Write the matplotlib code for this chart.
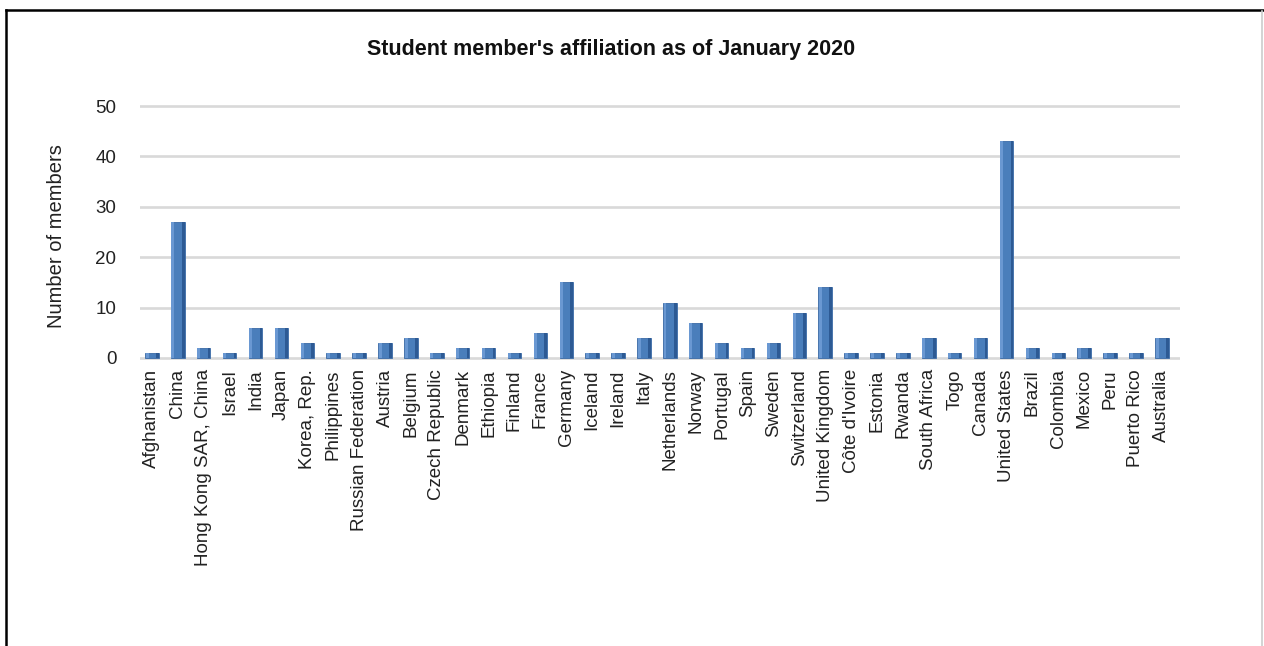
import matplotlib.pyplot as plt
from matplotlib.lines import Line2D

countries = [
    "Afghanistan", "China", "Hong Kong SAR, China", "Israel", "India", "Japan",
    "Korea, Rep.", "Philippines", "Russian Federation", "Austria", "Belgium",
    "Czech Republic", "Denmark", "Ethiopia", "Finland", "France", "Germany",
    "Iceland", "Ireland", "Italy", "Netherlands", "Norway", "Portugal", "Spain",
    "Sweden", "Switzerland", "United Kingdom", "Côte d'Ivoire", "Estonia",
    "Rwanda", "South Africa", "Togo", "Canada", "United States", "Brazil",
    "Colombia", "Mexico", "Peru", "Puerto Rico", "Australia",
]
members = [
    1, 27, 2, 1, 6, 6, 3, 1, 1, 3, 4, 1, 2, 2, 1, 5, 15, 1, 1, 4,
    11, 7, 3, 2, 3, 9, 14, 1, 1, 1, 4, 1, 4, 43, 2, 1, 2, 1, 1, 4,
]
y_ticks = [0, 10, 20, 30, 40, 50]

W, H = 1264, 646


def main():
    plt.rcParams['font.family'] = ['Liberation Sans', 'DejaVu Sans']

    fig = plt.figure(figsize=(W / 100, H / 100), dpi=100)
    fig.patch.set_facecolor('white')

    # axes box in pixels: left 140, right 1180, top 104.5, bottom 359.5
    left, right, top, bottom = 140, 1180, 104.5, 359.5
    ax = fig.add_axes([left / W, 1 - bottom / H, (right - left) / W, (bottom - top) / H])

    x = list(range(len(countries)))
    bw = 0.52
    # front face, a lighter left edge and a darker right side for the 3-D look
    ax.bar(x, members, width=bw, color='#4a7ebb', edgecolor='#3a6aa6',
           linewidth=0.6, zorder=3)
    ax.bar([i - bw * 0.36 for i in x], members, width=bw * 0.22, color='#6a98d2',
           linewidth=0, zorder=4)
    ax.bar([i + bw * 0.4 for i in x], members, width=bw * 0.2, color='#2d5a94',
           linewidth=0, zorder=4)

    ax.set_xlim(-0.46, len(countries) - 0.3)
    ax.set_ylim(-0.3, 50.3)
    ax.set_yticks(y_ticks)
    ax.set_xticks(x)
    ax.set_xticklabels(countries, rotation=90, fontsize=13.5, color='#222222')
    ax.tick_params(axis='y', length=0, pad=17, labelsize=13.5, labelcolor='#222222')
    ax.tick_params(axis='x', length=0, pad=7)

    ax.grid(axis='y', color='#d9d9d9', linewidth=1.9, zorder=0)
    for s in ax.spines.values():
        s.set_visible(False)

    fig.text(611 / W, 1 - 50 / H, "Student member's affiliation as of January 2020",
             ha='center', va='center', fontsize=15.5, fontweight='bold', color='#111111')
    fig.text(57 / W, 1 - 236 / H, "Number of members", rotation=90,
             ha='center', va='center', fontsize=14.5, color='#222222')

    # outer frame of the picture
    fig.add_artist(Line2D([6 / W, 6 / W], [0, 1 - 10 / H], color='black', linewidth=1.8,
                          transform=fig.transFigure))
    fig.add_artist(Line2D([6 / W, 1], [1 - 10 / H, 1 - 10 / H], color='black', linewidth=1.8,
                          transform=fig.transFigure))
    fig.add_artist(Line2D([1262 / W, 1262 / W], [0, 1 - 11 / H], color='#cccccc', linewidth=1.2,
                          transform=fig.transFigure))

    fig.savefig('out.png', dpi=100)


if __name__ == "__main__":
    main()
